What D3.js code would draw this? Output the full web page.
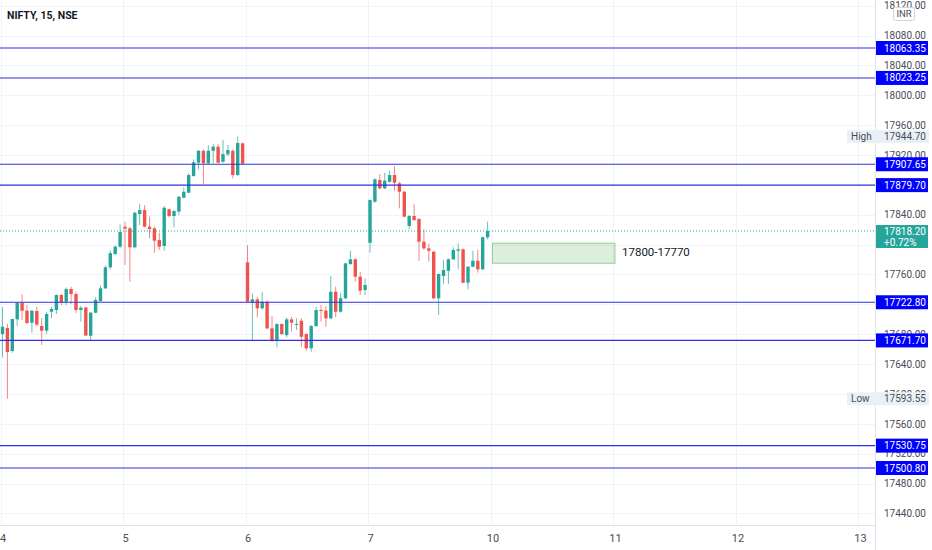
<!DOCTYPE html>
<html>
<head>
<meta charset="utf-8">
<script src="https://cdn.jsdelivr.net/npm/d3@7"></script>
<style>
  html, body { margin: 0; padding: 0; background: #fff; }
  svg { display: block; font-family: Roboto, "Noto Sans", sans-serif; }
</style>
</head>
<body>
<svg id="chart" width="932" height="550"></svg>
<script>
// 15 min bars, NIFTY, sessions of 4, 5, 6, 7 Jan
const opens = [
  17680.2, 17688.3, 17657.5, 17699.9, 17722.2, 17711.5, 17695.4, 17711.1, 17690.9, 17684.7,
  17710.1, 17712.4, 17732.5, 17723.5, 17740.5, 17733.8, 17712.4, 17715.8, 17677.9, 17708.8,
  17724.4, 17741.4, 17769.6, 17787.4, 17797.2, 17824.0, 17821.8, 17796.4, 17841.0, 17846.3,
  17824.0, 17821.8, 17806.1, 17798.1, 17847.3, 17838.3, 17844.1, 17862.8, 17869.5, 17891.9,
  17909.7, 17925.7, 17908.9, 17925.7, 17931.1, 17911.0, 17920.9, 17925.7, 17893.2, 17935.7,
  17776.3, 17722.2, 17726.7, 17714.7, 17723.5, 17687.9, 17672.2, 17693.6, 17678.8, 17699.9,
  17692.3, 17698.1, 17680.2, 17661.1, 17690.9, 17712.4, 17711.5, 17701.3, 17736.9, 17710.1,
  17728.1, 17774.0, 17780.3, 17757.0, 17739.2, 17802.5, 17857.4, 17886.5, 17875.4, 17884.2,
  17893.2, 17882.1, 17870.8, 17824.9, 17838.3, 17834.3, 17803.9, 17795.0, 17790.5, 17728.1,
  17757.9, 17765.0, 17780.3, 17791.8, 17793.7, 17749.0, 17770.4, 17778.4, 17766.9, 17809.8
];
const highs = [
  17716.4, 17693.6, 17700.8, 17723.0, 17733.2, 17719.1, 17712.4, 17716.8, 17701.7, 17709.7,
  17716.8, 17733.2, 17733.8, 17742.5, 17743.6, 17736.9, 17717.8, 17716.8, 17710.1, 17729.4,
  17745.2, 17772.0, 17791.8, 17798.8, 17827.2, 17830.7, 17824.0, 17844.0, 17854.4, 17853.0,
  17837.4, 17824.0, 17816.0, 17851.7, 17848.1, 17846.3, 17865.1, 17876.7, 17895.5, 17914.2,
  17926.7, 17927.6, 17933.4, 17934.7, 17934.7, 17940.1, 17933.4, 17927.6, 17944.7, 17936.5,
  17799.4, 17734.5, 17730.2, 17736.9, 17724.8, 17704.3, 17694.6, 17694.6, 17702.6, 17703.4,
  17701.3, 17701.3, 17681.2, 17692.3, 17716.8, 17719.1, 17717.8, 17757.9, 17743.6, 17734.8,
  17775.7, 17791.8, 17781.6, 17763.7, 17754.8, 17860.7, 17888.8, 17894.5, 17896.3, 17899.0,
  17905.3, 17884.2, 17872.2, 17839.6, 17854.4, 17835.6, 17820.5, 17801.7, 17791.8, 17761.5,
  17779.4, 17781.6, 17796.4, 17801.7, 17795.0, 17771.3, 17791.8, 17792.8, 17810.8, 17830.7
];
const lows = [
  17648.8, 17593.55, 17655.2, 17690.9, 17699.0, 17693.6, 17682.0, 17690.3, 17665.5, 17680.2,
  17701.7, 17707.0, 17719.1, 17719.1, 17720.4, 17708.4, 17696.7, 17677.5, 17671.3, 17708.0,
  17723.5, 17740.5, 17766.9, 17786.0, 17795.4, 17772.7, 17750.3, 17795.0, 17826.2, 17823.1,
  17808.4, 17789.1, 17792.8, 17791.8, 17836.6, 17823.1, 17839.6, 17862.0, 17868.7, 17890.9,
  17900.8, 17880.5, 17908.0, 17908.9, 17908.9, 17909.7, 17918.7, 17888.8, 17891.9, 17907.5,
  17723.1, 17672.2, 17702.6, 17713.3, 17686.5, 17669.9, 17662.4, 17678.8, 17675.8, 17683.3,
  17685.6, 17663.2, 17657.9, 17656.6, 17690.0, 17696.7, 17690.0, 17699.9, 17702.6, 17708.8,
  17726.7, 17772.7, 17750.3, 17732.5, 17732.5, 17789.1, 17856.1, 17874.0, 17874.0, 17882.9,
  17872.2, 17848.6, 17836.6, 17820.5, 17832.0, 17778.4, 17792.8, 17777.1, 17726.7, 17705.7,
  17747.2, 17747.2, 17779.4, 17766.9, 17748.2, 17740.1, 17769.6, 17762.4, 17766.0, 17807.1
];
const closes = [
  17690.0, 17656.1, 17700.3, 17722.2, 17711.5, 17695.0, 17711.5, 17692.9, 17684.7, 17707.0,
  17713.7, 17732.5, 17722.2, 17740.5, 17733.8, 17712.4, 17715.5, 17678.2, 17708.8, 17725.8,
  17741.4, 17769.6, 17788.6, 17797.2, 17816.9, 17821.3, 17796.4, 17842.7, 17846.3, 17824.0,
  17820.9, 17805.2, 17797.2, 17849.4, 17838.3, 17845.0, 17864.1, 17870.8, 17893.2, 17910.2,
  17925.7, 17908.9, 17925.7, 17931.1, 17909.7, 17921.3, 17926.7, 17893.2, 17936.1, 17908.3,
  17723.5, 17726.7, 17714.7, 17723.5, 17687.9, 17672.2, 17693.6, 17680.2, 17699.9, 17695.4,
  17693.6, 17676.6, 17661.1, 17690.9, 17712.4, 17711.1, 17701.3, 17736.9, 17710.1, 17728.1,
  17774.9, 17780.3, 17757.0, 17738.2, 17745.9, 17859.7, 17887.4, 17875.4, 17885.6, 17893.2,
  17882.9, 17870.8, 17837.4, 17838.3, 17832.9, 17803.9, 17795.0, 17791.8, 17728.1, 17760.6,
  17766.0, 17780.3, 17792.8, 17793.7, 17749.0, 17770.4, 17778.4, 17766.9, 17809.8, 17818.2
];

const dayLabels = ['4', '5', '6', '7', '10', '11', '12', '13'];
const dayStartBars = [0, 25, 50, 75, 100, 125, 150, 175];
const priceTicks = [18120, 18080, 18040, 18000, 17960, 17920, 17880, 17840, 17800, 17760,
  17720, 17680, 17640, 17600, 17560, 17520, 17480, 17440];
const levels = [18063.35, 18023.25, 17907.65, 17879.70, 17722.80, 17671.70, 17530.75, 17500.80];
const lastPrice = 17818.20;
const lastChange = '+0.72%';
const sessionHigh = 17944.70;
const sessionLow = 17593.55;
const zonePrices = [17802, 17775];
const zoneBars = [100, 125];
const zoneLabel = '17800-17770';

const plotRight = 875;
const plotBottom = 525;
const green = '#26a69a';
const red = '#ef5350';
const levelColor = '#0000ff';
const axisFont = 10;

const svg = d3.select('#chart');
const bars = d3.range(opens.length);

const xScale = d3.scaleLinear().domain([0, 100]).range([2.5, 492.5]);
const yScale = d3.scaleLinear().domain([17500.80, 18063.35]).range([468, 48]);

svg.append('defs').append('clipPath').attr('id', 'plot-clip')
  .append('rect').attr('x', 0).attr('y', 0).attr('width', plotRight).attr('height', plotBottom);

const plot = svg.append('g').attr('clip-path', 'url(#plot-clip)');

// grid
plot.append('g').selectAll('line').data(priceTicks).enter().append('line')
  .attr('x1', 0).attr('x2', plotRight)
  .attr('y1', (d) => Math.round(yScale(d)) + 0.5).attr('y2', (d) => Math.round(yScale(d)) + 0.5)
  .attr('stroke', '#f0f3fa');
plot.append('g').selectAll('line').data(dayStartBars).enter().append('line')
  .attr('x1', (d) => Math.round(xScale(d)) - 1.5).attr('x2', (d) => Math.round(xScale(d)) - 1.5)
  .attr('y1', 0).attr('y2', plotBottom)
  .attr('stroke', '#f0f3fa');

// zone box
plot.append('rect')
  .attr('x', xScale(zoneBars[0])).attr('width', xScale(zoneBars[1]) - xScale(zoneBars[0]))
  .attr('y', yScale(zonePrices[0])).attr('height', yScale(zonePrices[1]) - yScale(zonePrices[0]))
  .attr('fill', 'rgba(76, 175, 80, 0.2)').attr('stroke', 'rgba(76, 175, 80, 0.55)').attr('stroke-width', 1);
plot.append('text')
  .attr('x', xScale(zoneBars[1]) + 7).attr('y', (yScale(zonePrices[0]) + yScale(zonePrices[1])) / 2 - 1)
  .attr('dy', '0.35em').attr('font-size', 11.5).attr('fill', '#131722').text(zoneLabel);

// candles
const candles = plot.append('g').selectAll('g').data(bars).enter().append('g');
const colorOf = (i) => (closes[i] >= opens[i] ? green : red);
candles.append('line')
  .attr('x1', (i) => xScale(i)).attr('x2', (i) => xScale(i))
  .attr('y1', (i) => yScale(highs[i])).attr('y2', (i) => yScale(lows[i]))
  .attr('stroke', colorOf).attr('stroke-opacity', 0.7).attr('stroke-width', 1);
candles.append('rect')
  .attr('x', (i) => xScale(i) - 1.7).attr('width', 3.4)
  .attr('y', (i) => yScale(Math.max(opens[i], closes[i])))
  .attr('height', (i) => Math.max(1, Math.abs(yScale(opens[i]) - yScale(closes[i]))))
  .attr('fill', colorOf);

// last price line
plot.append('line')
  .attr('x1', 0).attr('x2', plotRight)
  .attr('y1', yScale(lastPrice)).attr('y2', yScale(lastPrice))
  .attr('stroke', green).attr('stroke-dasharray', '1,2');

// horizontal levels
plot.append('g').selectAll('line').data(levels).enter().append('line')
  .attr('x1', 0).attr('x2', plotRight)
  .attr('y1', (d) => yScale(d)).attr('y2', (d) => yScale(d))
  .attr('stroke', '#3030dd').attr('stroke-width', 1.1);

// axes frame
svg.append('line').attr('x1', plotRight + 0.5).attr('x2', plotRight + 0.5).attr('y1', 0).attr('y2', 550)
  .attr('stroke', '#e0e3eb');
svg.append('line').attr('x1', 0).attr('x2', plotRight).attr('y1', plotBottom + 0.5).attr('y2', plotBottom + 0.5)
  .attr('stroke', '#e0e3eb');

// price axis
const yAxis = d3.axisRight(yScale).tickValues(priceTicks).tickSize(0).tickPadding(9)
  .tickFormat(d3.format('.2f'));
const yAxisGroup = svg.append('g').attr('transform', `translate(${plotRight}, 0)`).call(yAxis);
yAxisGroup.select('.domain').remove();
yAxisGroup.selectAll('text').attr('font-size', axisFont).attr('fill', '#4a4d57').attr('font-family', 'Roboto');

// time axis
const xAxis = d3.axisBottom(xScale).tickValues(dayStartBars).tickSize(0).tickPadding(9)
  .tickFormat((d, i) => dayLabels[i]);
const xAxisGroup = svg.append('g').attr('transform', `translate(0, ${plotBottom})`).call(xAxis);
xAxisGroup.select('.domain').remove();
xAxisGroup.selectAll('text').attr('font-size', 11).attr('fill', '#4a4d57').attr('font-family', 'Roboto');

// level price tags
const tags = svg.append('g').selectAll('g').data(levels).enter().append('g')
  .attr('transform', (d) => `translate(${plotRight + 1}, ${yScale(d)})`);
tags.append('rect').attr('x', 0).attr('y', -7).attr('width', 52).attr('height', 14).attr('fill', levelColor);
tags.append('text').attr('x', 8).attr('dy', '0.35em').attr('font-size', axisFont).attr('fill', '#fff')
  .text((d) => d3.format('.2f')(d));

// high / low tags
const extremes = [['High', sessionHigh], ['Low', sessionLow]];
const ext = svg.append('g').selectAll('g').data(extremes).enter().append('g')
  .attr('transform', (d) => `translate(847, ${yScale(d[1])})`);
ext.append('rect').attr('x', 0).attr('y', -6.5).attr('width', 82).attr('height', 13).attr('fill', '#eaf0f7');
ext.append('text').attr('x', 4).attr('dy', '0.35em').attr('font-size', axisFont).attr('fill', '#4a4d57')
  .text((d) => d[0]);
ext.append('text').attr('x', 37).attr('dy', '0.35em').attr('font-size', axisFont).attr('fill', '#4a4d57')
  .text((d) => d3.format('.2f')(d[1]));

// last price tag
const lastTag = svg.append('g').attr('transform', `translate(${plotRight + 1}, ${yScale(lastPrice)})`);
lastTag.append('rect').attr('x', 0).attr('y', -6).attr('width', 52).attr('height', 23).attr('fill', green);
lastTag.append('text').attr('x', 8).attr('y', 0).attr('dy', '0.35em').attr('font-size', axisFont).attr('fill', '#fff')
  .text(d3.format('.2f')(lastPrice));
lastTag.append('text').attr('x', 8).attr('y', 11).attr('dy', '0.35em').attr('font-size', axisFont).attr('fill', '#fff')
  .text(lastChange);

// currency badge
svg.append('rect').attr('x', 893.5).attr('y', 7.5).attr('width', 21).attr('height', 13).attr('rx', 2)
  .attr('fill', '#fff').attr('stroke', '#d1d4dc');
svg.append('text').attr('x', 904).attr('y', 14).attr('dy', '0.35em').attr('text-anchor', 'middle')
  .attr('font-size', 9.5).attr('fill', '#4a4d57').text('INR');

// title
svg.append('text').attr('x', 7).attr('y', 18.5).attr('font-size', 10.5).attr('font-weight', 'bold')
  .attr('fill', '#131722').text('NIFTY, 15, NSE');
</script>
</body>
</html>
